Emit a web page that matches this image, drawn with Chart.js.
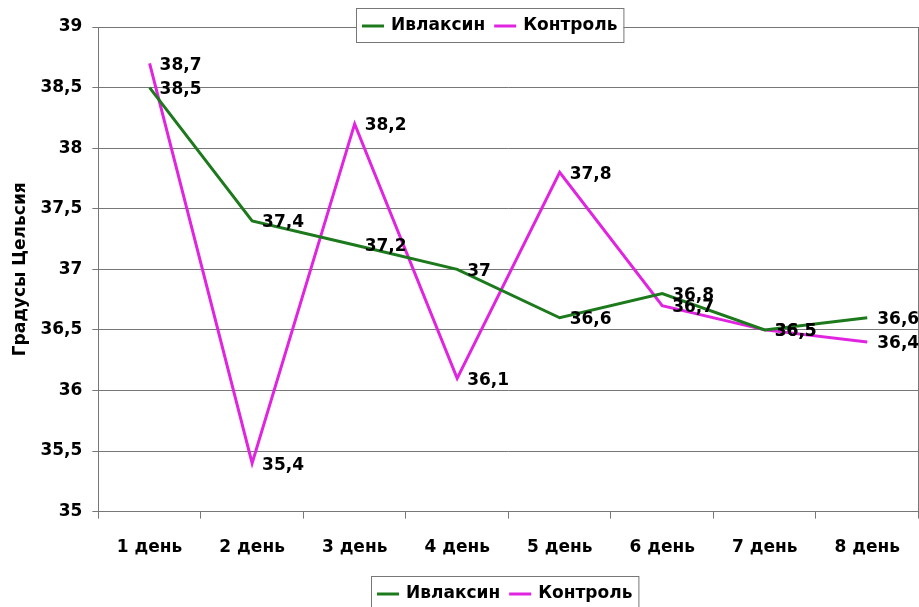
<!DOCTYPE html>
<html>
<head>
<meta charset="utf-8">
<script src="https://cdn.jsdelivr.net/npm/chart.js@4"></script>
<style>
  html, body { margin: 0; padding: 0; background: #fff; }
  #wrap { width: 919px; height: 607px; }
</style>
</head>
<body>
<div id="wrap"><canvas id="grafico"></canvas></div>
<script>
// dados
const dias = ['1 день', '2 день', '3 день', '4 день', '5 день', '6 день', '7 день', '8 день'];
const ivlaksin = [38.5, 37.4, 37.2, 37, 36.6, 36.8, 36.5, 36.6];
const kontrol  = [38.7, 35.4, 38.2, 36.1, 37.8, 36.7, 36.5, 36.4];
const nomes = ['Ивлаксин', 'Контроль'];
const cores = ['#1c7a1c', '#e024e0'];

const FONTE = 'bold 17px "DejaVu Sans", sans-serif';

function virgula(v) { return String(v).replace('.', ','); }

// rótulos dos pontos
const rotulos = {
  id: 'rotulos',
  afterDatasetsDraw(chart) {
    const ctx = chart.ctx;
    ctx.save();
    ctx.font = FONTE;
    ctx.fillStyle = '#000';
    ctx.textBaseline = 'middle';
    ctx.textAlign = 'left';
    chart.data.datasets.forEach((ds, i) => {
      chart.getDatasetMeta(i).data.forEach((pt, j) => {
        ctx.fillText(virgula(ds.data[j]), pt.x + 10, pt.y + 2);
      });
    });
    ctx.restore();
  }
};

// moldura + duas legendas
function legenda(chart, cx, top, h) {
  const ctx = chart.ctx;
  ctx.font = FONTE;
  const linha = 22, gap = 7, entre = 9, pad = 6;
  const larg = nomes.map(n => ctx.measureText(n).width);
  let total = pad * 2;
  larg.forEach((w, i) => { total += linha + gap + w + (i ? entre : 0); });
  let x = Math.round(cx - total / 2);
  ctx.fillStyle = '#fff';
  ctx.fillRect(x, top, total, h);
  ctx.strokeStyle = '#777';
  ctx.lineWidth = 1;
  ctx.strokeRect(x + 0.5, top + 0.5, total, h);
  x += pad;
  const y = top + h / 2 + 1;
  nomes.forEach((n, i) => {
    if (i) x += entre;
    ctx.strokeStyle = cores[i];
    ctx.lineWidth = 3;
    ctx.beginPath();
    ctx.moveTo(x, y);
    ctx.lineTo(x + linha, y);
    ctx.stroke();
    x += linha + gap;
    ctx.fillStyle = '#000';
    ctx.textBaseline = 'middle';
    ctx.fillText(n, x, y);
    x += larg[i];
  });
}

const extras = {
  id: 'extras',
  beforeDatasetsDraw(chart) {
    const a = chart.chartArea, ctx = chart.ctx;
    ctx.save();
    ctx.strokeStyle = '#777';
    ctx.lineWidth = 1;
    ctx.beginPath();
    ctx.moveTo(Math.round(a.right) - 0.5, a.top);
    ctx.lineTo(Math.round(a.right) - 0.5, a.bottom);
    ctx.stroke();
    ctx.restore();
  },
  afterDraw(chart) {
    const ctx = chart.ctx;
    ctx.save();
    legenda(chart, 490, 8, 34);
    legenda(chart, 505, 576, 34);
    ctx.restore();
  }
};

new Chart(document.getElementById('grafico'), {
  type: 'line',
  data: {
    labels: dias,
    datasets: [
      { label: nomes[0], data: ivlaksin, borderColor: cores[0], backgroundColor: cores[0],
        borderWidth: 3, pointRadius: 0, tension: 0 },
      { label: nomes[1], data: kontrol, borderColor: cores[1], backgroundColor: cores[1],
        borderWidth: 3, pointRadius: 0, tension: 0 }
    ]
  },
  options: {
    responsive: true,
    maintainAspectRatio: false,
    animation: false,
    layout: { padding: { top: 27, right: 0, left: 10, bottom: 30 } },
    plugins: {
      legend: { display: false },
      tooltip: { enabled: false }
    },
    scales: {
      x: {
        offset: true,
        grid: { offset: true, drawOnChartArea: false, drawTicks: true, tickLength: 7, color: '#777' },
        border: { color: '#777' },
        ticks: { color: '#000', font: { family: 'DejaVu Sans', size: 17, weight: 'bold' }, padding: 19 }
      },
      y: {
        min: 35,
        max: 39,
        ticks: {
          stepSize: 0.5,
          color: '#000',
          padding: 10,
          font: { family: 'DejaVu Sans', size: 17, weight: 'bold' },
          callback: v => virgula(v)
        },
        grid: { color: '#777', tickLength: 6 },
        border: { color: '#777' },
        title: {
          display: true,
          text: 'Градусы Цельсия',
          color: '#000',
          font: { family: 'DejaVu Sans', size: 17, weight: 'bold' },
          padding: { top: 0, bottom: 0 }
        }
      }
    }
  },
  plugins: [rotulos, extras]
});
</script>
</body>
</html>
